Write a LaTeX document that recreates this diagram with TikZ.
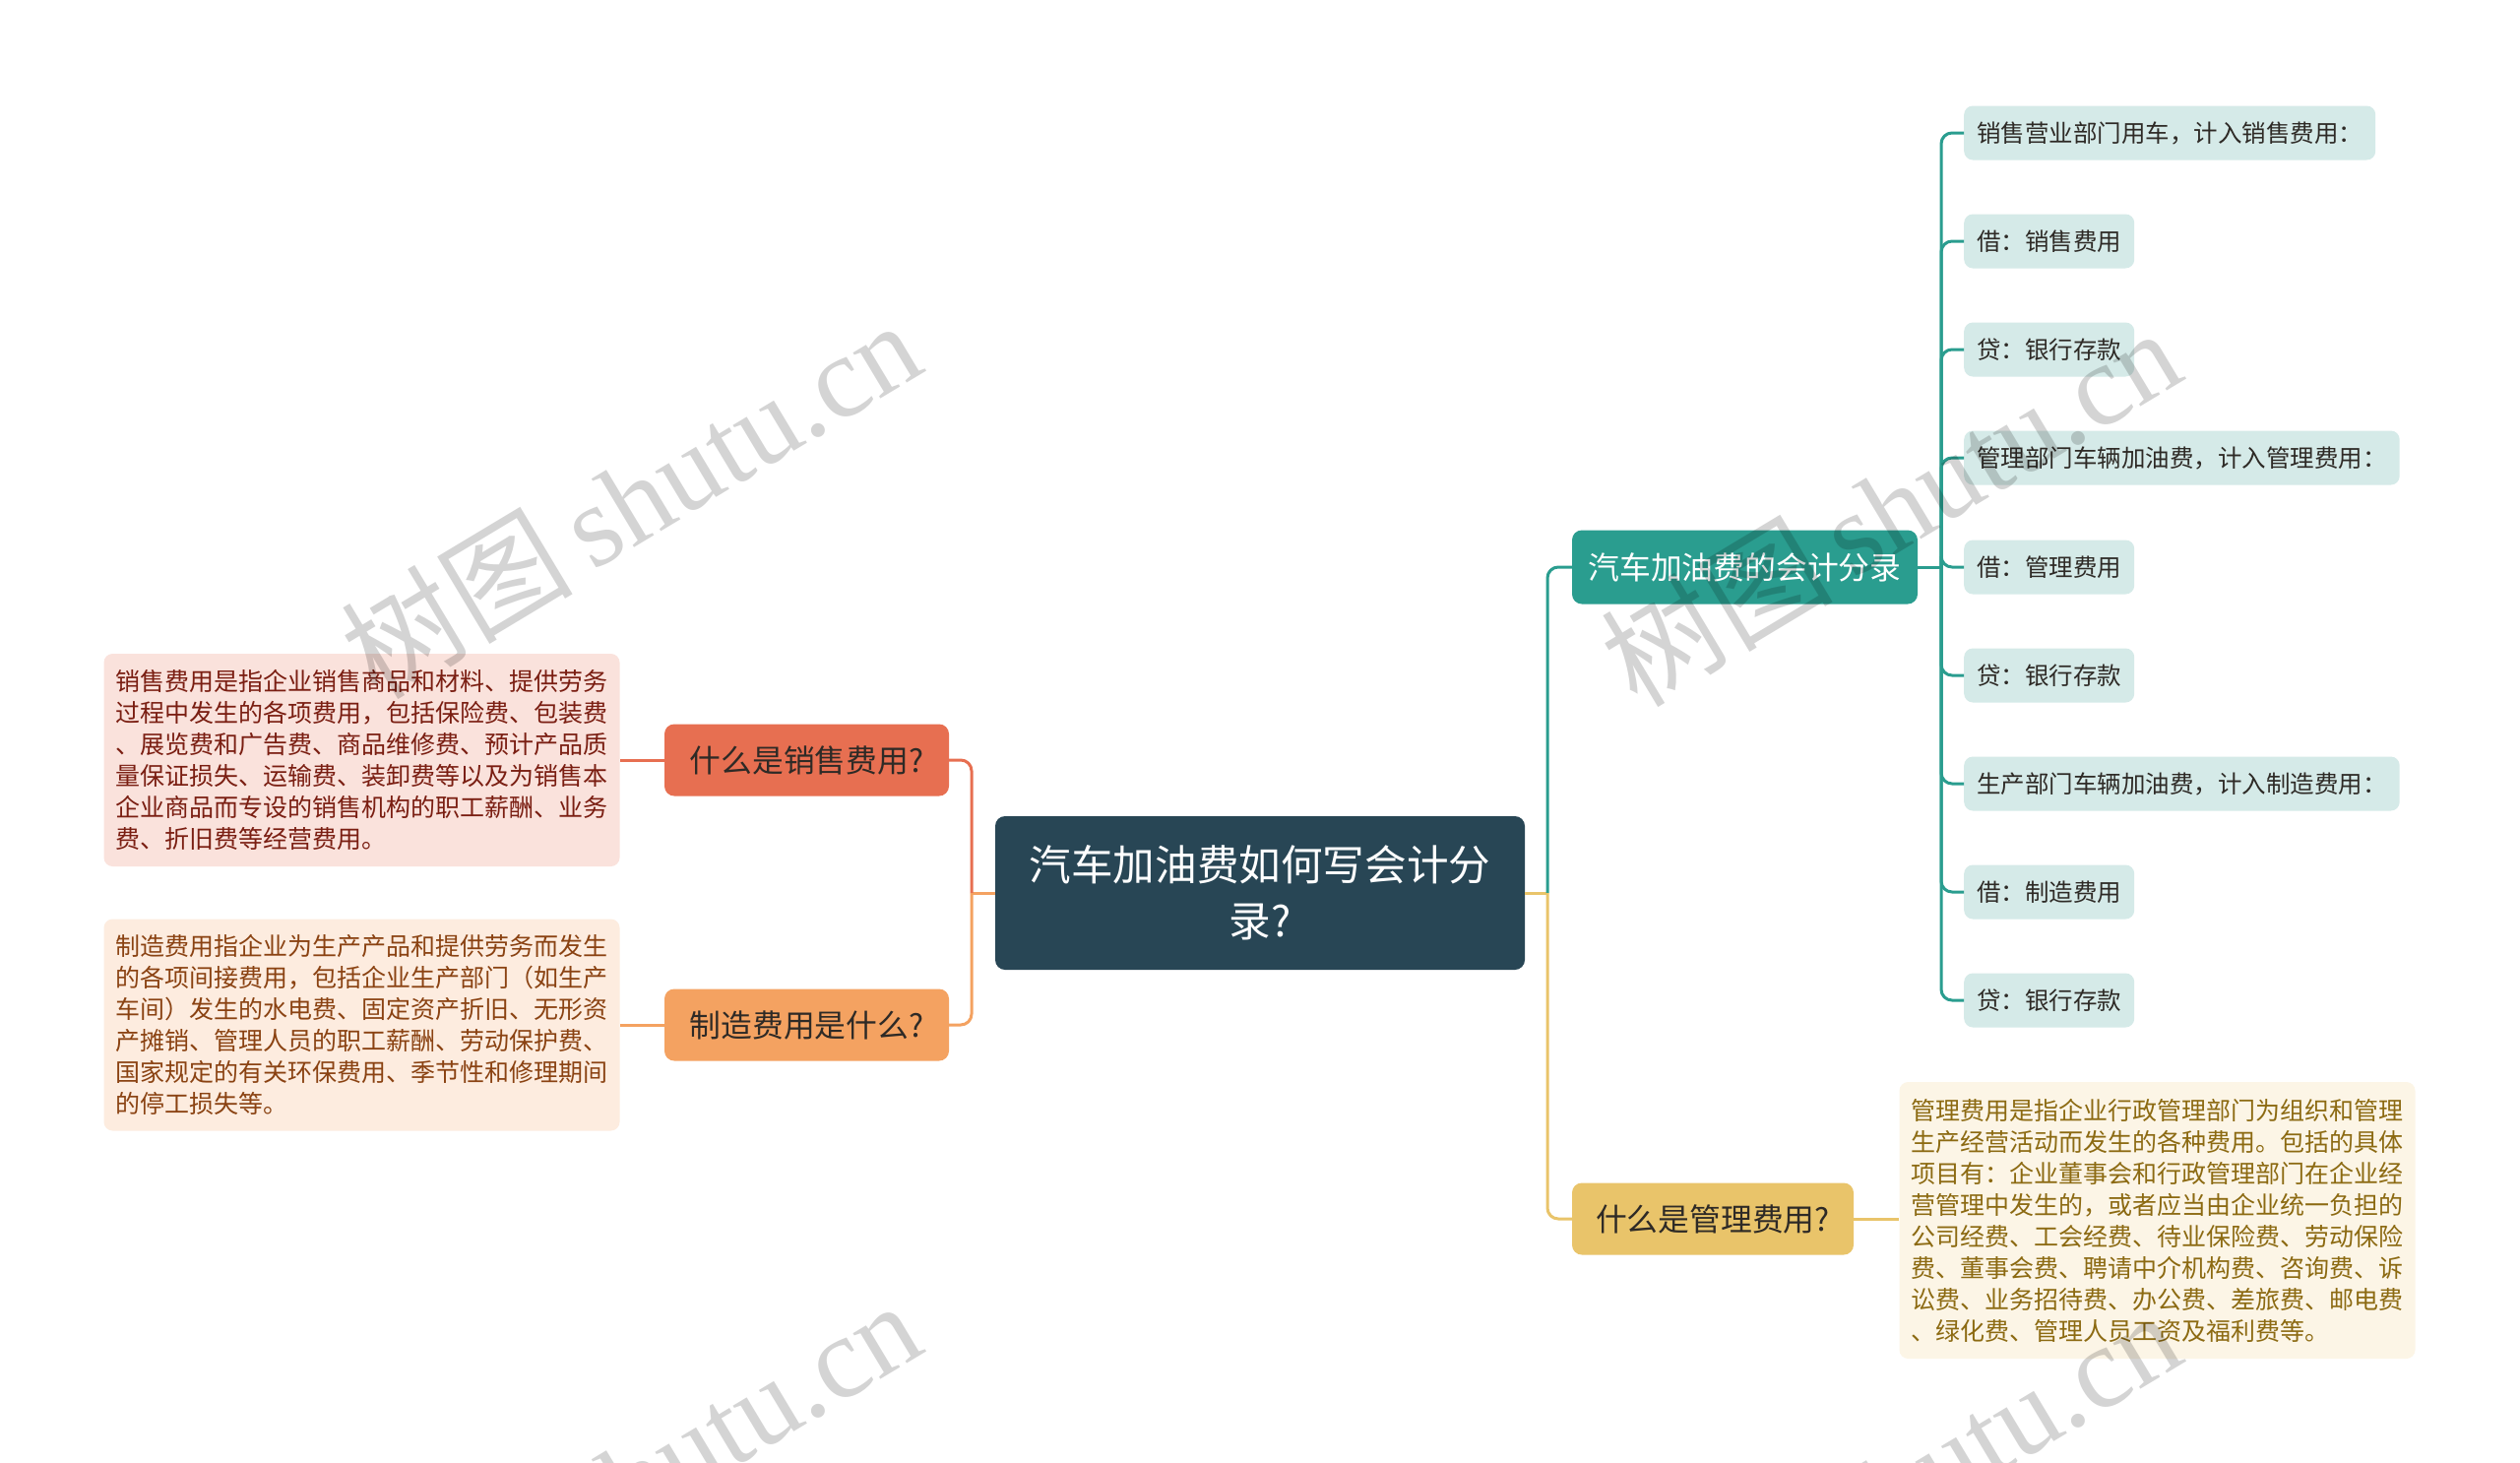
\documentclass[tikz,border=0pt]{standalone}
\usepackage{fontspec}
\setmainfont{Liberation Serif}
\newfontfamily\cjk{Noto Sans CJK SC}
\newfontfamily\wmlat{Liberation Serif}
\definecolor{cRoot}{HTML}{284655}
\definecolor{cTeal}{HTML}{2A9D8F}
\definecolor{cLeaf}{HTML}{D5EAE8}
\definecolor{cRed}{HTML}{E76F51}
\definecolor{cOrange}{HTML}{F4A261}
\definecolor{cYellow}{HTML}{E9C46A}
\definecolor{cSalesBg}{HTML}{FAE2DC}
\definecolor{cSalesTx}{HTML}{7A1E12}
\definecolor{cManuBg}{HTML}{FDECDF}
\definecolor{cManuTx}{HTML}{8A4212}
\definecolor{cMgmtBg}{HTML}{FCF5E6}
\definecolor{cMgmtTx}{HTML}{8C6A12}
\definecolor{cDark}{HTML}{2E2A26}
\tikzset{
  rootbox/.style={rounded corners=10, fill=cRoot, text=white, align=center,
    font=\cjk\fontsize{42.6}{57}\selectfont, minimum width=538, minimum height=156, inner sep=0},
  mainbox/.style={rounded corners=10, minimum height=73, inner sep=0,
    font=\cjk\fontsize{31.8}{38}\selectfont},
  leafbox/.style={rounded corners=9, fill=cLeaf, text=cDark, anchor=west, inner xsep=13, inner ysep=0,
    minimum height=55, font=\cjk\fontsize{24.5}{30}\selectfont},
  descbox/.style={rounded corners=9, align=left, inner xsep=12, inner ysep=0,
    font=\cjk\fontsize{25}{32}\selectfont},
  conn/.style={line width=3, rounded corners=11},
  wm/.style={text=black, opacity=0.17, rotate=31, inner sep=0}
}
\begin{document}
\begin{tikzpicture}[x=1pt,y=-1pt]
\useasboundingbox (0,0) rectangle (2560,1486);
\fill[white] (0,0) rectangle (2560,1486);

% nodes
\node[rootbox] (root) at (1280,907) {汽车加油费如何写会计分\\录?};
\node[mainbox, fill=cTeal, text=white, minimum width=351, minimum height=75] (teal) at (1772.5,576) {汽车加油费的会计分录};
\node[mainbox, fill=cYellow, text=cDark, minimum width=286] (yel) at (1740,1238) {什么是管理费用?};
\node[mainbox, fill=cRed, text=cDark, minimum width=289] (red) at (819.5,772) {什么是销售费用?};
\node[mainbox, fill=cOrange, text=cDark, minimum width=289] (ora) at (819.5,1041) {制造费用是什么?};

\node[descbox, fill=cSalesBg, text=cSalesTx, minimum width=523, minimum height=216] (sdesc) at (367.5,772) {销售费用是指企业销售商品和材料、提供劳务\\过程中发生的各项费用，包括保险费、包装费\\、展览费和广告费、商品维修费、预计产品质\\量保证损失、运输费、装卸费等以及为销售本\\企业商品而专设的销售机构的职工薪酬、业务\\费、折旧费等经营费用。};
\node[descbox, fill=cManuBg, text=cManuTx, minimum width=523, minimum height=215] (mdesc) at (367.5,1041) {制造费用指企业为生产产品和提供劳务而发生\\的各项间接费用，包括企业生产部门（如生产\\车间）发生的水电费、固定资产折旧、无形资\\产摊销、管理人员的职工薪酬、劳动保护费、\\国家规定的有关环保费用、季节性和修理期间\\的停工损失等。};
\node[descbox, fill=cMgmtBg, text=cMgmtTx, minimum width=521, minimum height=281] (gdesc) at (2191.5,1239.5) {管理费用是指企业行政管理部门为组织和管理\\生产经营活动而发生的各种费用。包括的具体\\项目有：企业董事会和行政管理部门在企业经\\营管理中发生的，或者应当由企业统一负担的\\公司经费、工会经费、待业保险费、劳动保险\\费、董事会费、聘请中介机构费、咨询费、诉\\讼费、业务招待费、办公费、差旅费、邮电费\\、绿化费、管理人员工资及福利费等。};

\node[leafbox] (l1) at (1995,135) {销售营业部门用车，计入销售费用：};
\node[leafbox] (l2) at (1995,245) {借：销售费用};
\node[leafbox] (l3) at (1995,355) {贷：银行存款};
\node[leafbox] (l4) at (1995,465) {管理部门车辆加油费，计入管理费用：};
\node[leafbox] (l5) at (1995,576) {借：管理费用};
\node[leafbox] (l6) at (1995,686) {贷：银行存款};
\node[leafbox] (l7) at (1995,796) {生产部门车辆加油费，计入制造费用：};
\node[leafbox] (l8) at (1995,906) {借：制造费用};
\node[leafbox] (l9) at (1995,1016) {贷：银行存款};

% connectors
\coordinate (jr) at (1572,907);
\coordinate (jl) at (987,907);
\coordinate (jt) at (1972,576);
\draw[conn, cYellow] (root.east) -- (jr);
\draw[conn, cTeal] (jr) |- (teal.west);
\draw[conn, cYellow] (jr) |- (yel.west);
\draw[conn, cOrange] (root.west) -- (jl);
\draw[conn, cRed] (jl) |- (red.east);
\draw[conn, cOrange] (jl) |- (ora.east);
\draw[conn, cRed] (red.west) -- (red.west -| sdesc.east);
\draw[conn, cOrange] (ora.west) -- (ora.west -| mdesc.east);
\draw[conn, cYellow] (yel.east) -- (yel.east -| gdesc.west);
\draw[conn, cTeal] (teal.east) -- (jt);
\foreach \l in {l1,l2,l3,l4,l5,l6,l7,l8,l9}{
  \draw[conn, cTeal] (jt) |- (\l.west);
}

% watermarks
\node[wm] (wm1) at (640,506) {\fontsize{118}{118}\selectfont\cjk 树图\,\wmlat shutu.cn};
\node[wm] (wm2) at (1920,514) {\fontsize{118}{118}\selectfont\cjk 树图\,\wmlat shutu.cn};
\node[wm] (wm3) at (640,1502) {\fontsize{118}{118}\selectfont\cjk 树图\,\wmlat shutu.cn};
\node[wm] (wm4) at (1920,1512) {\fontsize{118}{118}\selectfont\cjk 树图\,\wmlat shutu.cn};
\end{tikzpicture}
\end{document}
